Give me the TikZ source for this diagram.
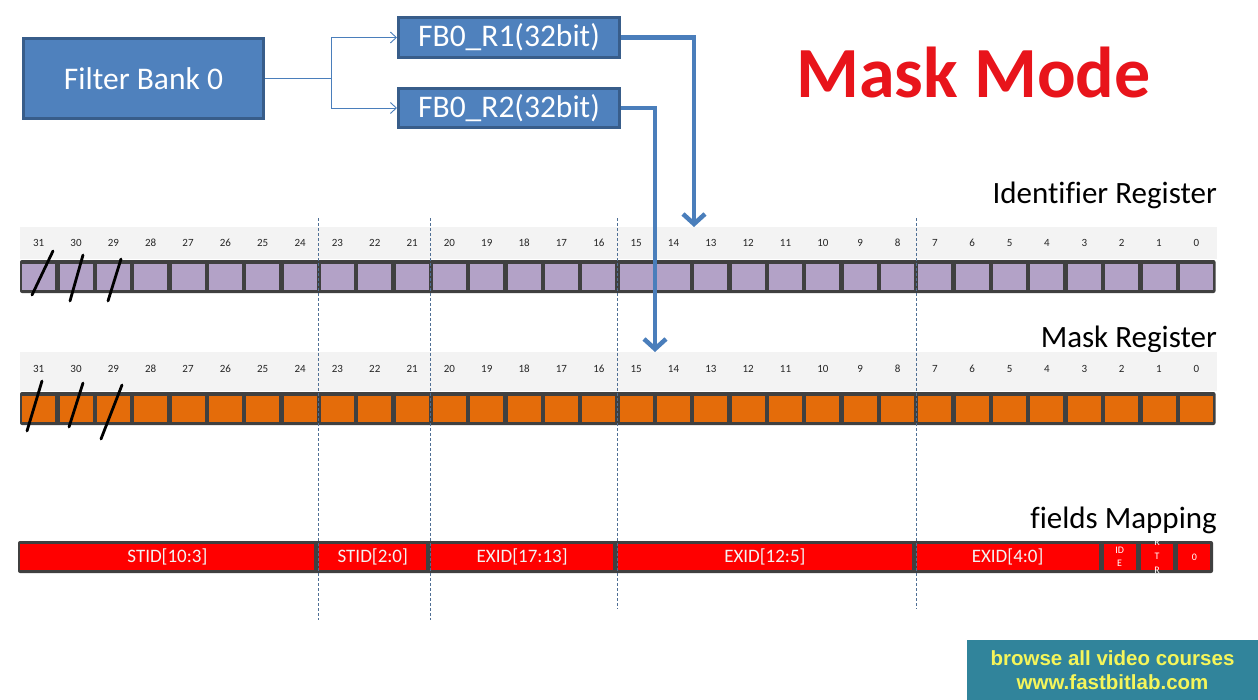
\documentclass[tikz,border=0pt]{standalone}
\usepackage{fontspec}
\setmainfont{Carlito}[Ligatures=NoCommon]
\newfontfamily\arialfont{Liberation Sans}
\usetikzlibrary{arrows.meta,calc}
\definecolor{boxblue}{HTML}{4F81BD}
\definecolor{boxedge}{HTML}{385D8A}
\definecolor{arrblue}{HTML}{4A7EBB}
\definecolor{framegray}{HTML}{404040}
\definecolor{bandgray}{HTML}{F3F3F3}
\definecolor{lav}{HTML}{B3A2C7}
\definecolor{orng}{HTML}{E46C0A}
\definecolor{guide}{HTML}{4F6F95}
\definecolor{wmteal}{HTML}{31849B}
\definecolor{wmyel}{HTML}{F5F55A}
\definecolor{maskred}{HTML}{E8141B}
\definecolor{numgray}{HTML}{262626}
\definecolor{fieldred}{HTML}{FF0000}
\begin{document}
\begin{tikzpicture}[x=1pt,y=-1pt,
  bluebox/.style={draw=boxedge, fill=boxblue, line width=3pt, text=white, inner sep=0pt,
    font=\fontsize{31.5}{36}\selectfont},
  conn/.style={draw=arrblue, line width=0.9pt, -{Straight Barb[length=6pt,width=11pt]}},
  bigarrow/.style={draw=arrblue, line width=4.5pt, -{Straight Barb[length=10pt,width=22pt]}},
  bitnum/.style={font=\fontsize{11}{12}\selectfont, text=numgray, inner sep=0pt},
  idcell/.style={fill=lav, minimum width=33pt, minimum height=26pt, inner sep=0pt},
  mkcell/.style={fill=orng, minimum width=33pt, minimum height=26pt, inner sep=0pt},
  fieldseg/.style={fill=fieldred, minimum height=26pt, inner sep=0pt, text=white!95!black,
    font=\fontsize{19}{22}\selectfont},
  tinyfield/.style={fill=fieldred, minimum height=26pt, minimum width=32pt, inner sep=0pt,
    text=white, align=center},
  title/.style={anchor=base east, inner sep=0pt, font=\fontsize{31}{36}\selectfont},
  guideline/.style={draw=guide, line width=0.7pt, dash pattern=on 3pt off 2pt},
  scribble/.style={draw=black, line width=2.8pt, line cap=round}
]
\useasboundingbox (0,0) rectangle (1258,699);
\fill[white] (0,0) rectangle (1258,699);
\def\pitch{37.344}

% ---------- top blocks ----------
\node[bluebox, minimum width=240pt, minimum height=80pt] (fb) at (143.5,78.5) {Filter Bank 0};
\node[bluebox, minimum width=221pt, minimum height=40pt] (r1) at (509,37.5) {FB0\_R1(32bit)};
\node[bluebox, minimum width=221pt, minimum height=39pt] (r2) at (509,108) {FB0\_R2(32bit)};
\coordinate (split) at (331,78.5);
\draw[draw=arrblue, line width=0.9pt] (fb.east) -- (split);
\draw[conn] (split) |- (r1.west);
\draw[conn] (split) |- (r2.west);

\node[anchor=base, inner sep=0pt, text=maskred, font=\bfseries\fontsize{72}{80}\selectfont] (mm) at (973.5,97) {Mask Mode};

% ---------- titles ----------
\node[title] (idtitle) at (1217,203) {Identifier Register};
\node[title] (mktitle) at (1217,347) {Mask Register};
\node[title] (fmtitle) at (1217,528) {fields Mapping};

% ---------- bands and frames ----------
\fill[bandgray] (20,227) rectangle (1217,259);
\fill[bandgray] (20,352) rectangle (1217,391);
\fill[framegray, rounded corners=2pt] (20,260) rectangle (1215.5,293);
\fill[framegray, rounded corners=2pt] (20,392) rectangle (1215.5,425);
\fill[framegray, rounded corners=2pt] (18,541) rectangle (1213,573);

\foreach \b in {0,...,31} {
  \pgfmathsetmacro\cx{20+(31-\b+0.5)*\pitch}
  \node[bitnum] (idn\b) at (\cx,243) {\b};
  \node[idcell] (id\b) at (\cx,276.5) {};
  \node[bitnum] (mkn\b) at (\cx,369) {\b};
  \node[mkcell] (mk\b) at (\cx,408.5) {};
}

% ---------- field mapping ----------
\foreach \nm/\hi/\lo/\txt in {stida/31/24/{STID[10:3]}, stidb/23/21/{STID[2:0]},
    exida/20/16/{EXID[17:13]}, exidb/15/8/{EXID[12:5]}, exidc/7/3/{EXID[4:0]}} {
  \pgfmathsetmacro\xl{18+(31-\hi)*\pitch+2.4}
  \pgfmathsetmacro\xr{18+(32-\lo)*\pitch-2.4}
  \pgfmathsetmacro\fw{\xr-\xl}
  \pgfmathsetmacro\fc{(\xl+\xr)/2}
  \node[fieldseg, minimum width=\fw pt] (\nm) at (\fc,557) {\txt};
}
\pgfmathsetmacro\cide{18+(29.5)*\pitch}
\pgfmathsetmacro\crtr{18+(30.5)*\pitch}
\pgfmathsetmacro\czero{18+(31.5)*\pitch}
\node[tinyfield, font=\fontsize{10}{13}\selectfont] (ide) at (\cide,557) {ID\\E};
\node[tinyfield] (rtr) at (\crtr,557) {};
\node[text=white, align=center, inner sep=0pt, font=\fontsize{10}{14}\selectfont] (rtrtxt) at (\crtr,556) {R\\T\\R};
\node[tinyfield, font=\fontsize{10}{12}\selectfont] (zero) at (\czero,557) {0};

% ---------- guide lines ----------
\foreach \n/\k/\yb in {ga/8/620, gb/11/620, gc/16/609, gd/24/609} {
  \pgfmathsetmacro\gx{20+\k*\pitch}
  \coordinate (\n top) at (\gx,218);
  \coordinate (\n bot) at (\gx,\yb);
  \draw[guideline] (\n top) -- (\n bot);
}

% ---------- scribbles ----------
\draw[scribble] (32,295) -- (53,251);
\draw[scribble] (70,301) -- (83,255);
\draw[scribble] (108,301) -- (121,259);
\draw[scribble] (27,431) -- (42,381);
\draw[scribble] (69,427) -- (83,383);
\draw[scribble] (101,439) -- (122,385);

% ---------- big arrows ----------
\coordinate (tipA) at (694,227);
\coordinate (tipB) at (655,352);
\draw[bigarrow] (r1.east) -| (tipA);
\draw[bigarrow] (r2.east) -| (tipB);

% ---------- watermark ----------
\node[fill=wmteal, minimum width=291pt, minimum height=60pt, inner sep=0pt, text=wmyel,
  align=center, font=\arialfont\bfseries\fontsize{20.5}{24}\selectfont] (wm) at (1112.5,670)
  {browse all video courses\\www.fastbitlab.com};
\end{tikzpicture}
\end{document}
